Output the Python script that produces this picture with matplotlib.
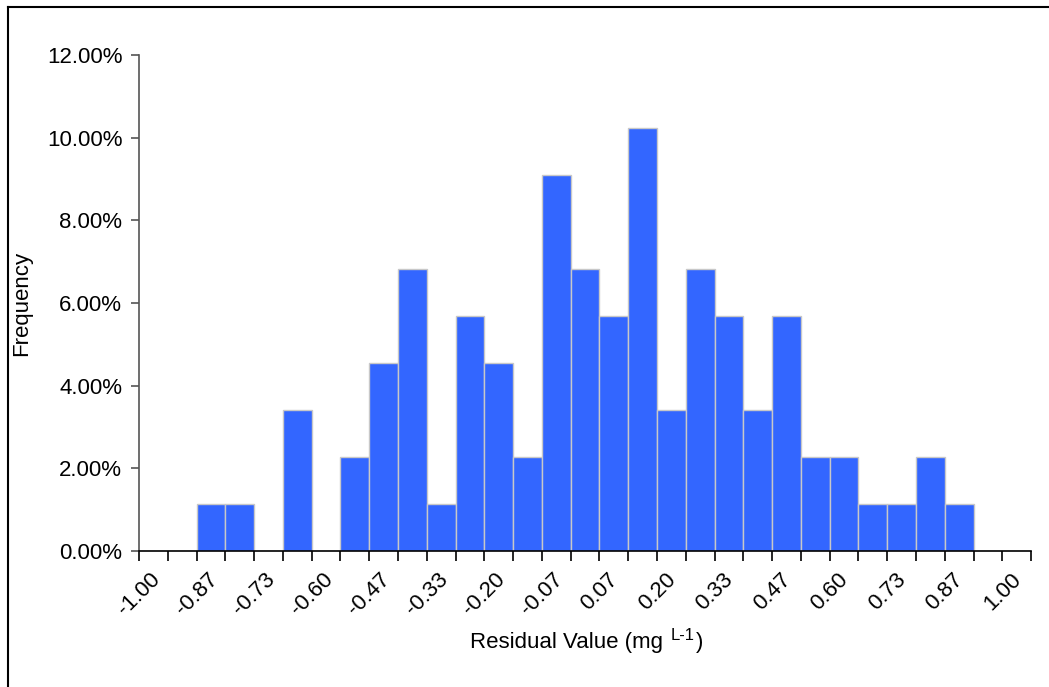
import numpy as np
import matplotlib
matplotlib.use("Agg")
import matplotlib.pyplot as plt
from matplotlib.ticker import FuncFormatter
from matplotlib.lines import Line2D

plt.rcParams['font.family'] = ['Liberation Sans', 'DejaVu Sans']

# histogram: 31 bins of width 1/15 starting at -1 (last one empty), n = 88
bin_width = 1.0 / 15
bin_edges = -1.0 + bin_width * np.arange(32)
counts = [0, 0, 1, 1, 0, 3, 0, 2, 4, 6, 1, 5, 4, 2, 8,
          6, 5, 9, 3, 6, 5, 3, 5, 2, 2, 1, 1, 2, 1, 0, 0]
tick_values = bin_edges[0:31:2]
tick_labels = ["%.2f" % v for v in tick_values]

freq = np.array(counts) / sum(counts)

fig = plt.figure(figsize=(10.49, 6.87), dpi=100)
ax = fig.add_axes([0.1325, 0.198, 0.8505, 0.722])

ax.bar(bin_edges[:-1], freq, width=np.diff(bin_edges), align='edge',
       color='#3366FF', edgecolor='#C8C8C8', linewidth=1.0)

ax.set_xlim(bin_edges[0], bin_edges[-1])
ax.set_ylim(0, 0.12)
ax.set_yticks(np.arange(0, 0.1201, 0.02))
ax.yaxis.set_major_formatter(FuncFormatter(lambda v, p: "%.2f%%" % (v * 100)))

ax.set_xticks(tick_values)
ax.set_xticklabels(tick_labels, rotation=45, ha='center')
ax.set_xticks(bin_edges, minor=True)

for s in ['top', 'right']:
    ax.spines[s].set_visible(False)
ax.spines['left'].set_color('#555555')
ax.spines['left'].set_linewidth(1.2)
ax.spines['bottom'].set_color('black')
ax.spines['bottom'].set_linewidth(1.2)

ax.tick_params(axis='y', direction='out', length=6, width=1.2, color='#555555',
               labelsize=16, pad=6)
ax.tick_params(axis='x', which='both', direction='out', length=7, width=1.2,
               color='black', labelsize=16, pad=6)

ax.set_ylabel("Frequency", fontsize=16, labelpad=0)
ax.yaxis.set_label_coords(-0.12, 0.5)

# x label with a plain-hyphen superscript
t1 = fig.text(470 / 1049, 1 - 648 / 687, "Residual Value (mg ", fontsize=16,
              ha='left', va='baseline')
t2 = ax.annotate("L-1", xy=(1.0, 1.0), xycoords=t1, xytext=(1, 3),
                 textcoords='offset points', fontsize=12, ha='left', va='top')
t3 = ax.annotate(")", xy=(1.0, 0.0), xycoords=(t2, t1), xytext=(1, 0),
                 textcoords='offset points', fontsize=16, ha='left', va='bottom')

# outer border (left and top only)
fig.add_artist(Line2D([7.5 / 1049, 7.5 / 1049], [0, 1 - 6.5 / 687],
                      transform=fig.transFigure, color='black', linewidth=1.5))
fig.add_artist(Line2D([7.5 / 1049, 1], [1 - 6.5 / 687, 1 - 6.5 / 687],
                      transform=fig.transFigure, color='black', linewidth=1.5))

fig.savefig("out.png", dpi=100)
